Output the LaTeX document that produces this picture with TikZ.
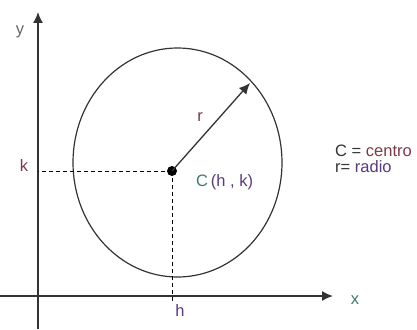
\documentclass[tikz,border=0pt]{standalone}
\usepackage{fontspec}
\setmainfont{Liberation Sans}
\usetikzlibrary{arrows.meta,positioning}
\definecolor{axisgray}{HTML}{333333}
\definecolor{labred}{HTML}{7A3A4A}
\definecolor{labpurple}{HTML}{5A3A7A}
\definecolor{labgreen}{HTML}{3F7A6A}
\definecolor{labgray}{HTML}{666666}

\begin{document}
\begin{tikzpicture}[
    x=1pt,
    y=-1pt,
    axis/.style={
        -{Latex[length=11pt,width=10pt]},
        line width=1.5pt,
        draw=axisgray
      },
    guide/.style={dashed,line width=1pt,dash pattern=on 4pt off 3pt},
    lbl/.style={font=\fontsize{16.5}{16}\selectfont,inner sep=0pt}
    ]
    \useasboundingbox (0,0) rectangle (417,329);

    \coordinate (ybot) at (38,329);
    \coordinate (ytop) at (38,12);
    \coordinate (xleft) at (0,296);
    \coordinate (xright) at (333,296);
    \coordinate (rtip) at (250,83);
    \coordinate (hpt) at (172,302);

    \draw[line width=1.2pt,draw=axisgray] (177.5,162.5) ellipse [x radius=104.5pt, y radius=114.5pt];

    \node[circle,fill=black,inner sep=0pt,minimum size=10pt] (C) at (172,171) {};

    \draw[axis] (xleft)--(xright);
    \draw[axis] (ybot)--(ytop);
    \draw[guide] (C.center)--(C.center -| ytop);
    \draw[guide] (C.center)--(hpt);
    \draw[axis,line width=1.3pt] (C.center)--(rtip);

    \node[lbl,text=labgray] (ylab) at (20,32) {y};
    \node[lbl,text=labred] (klab) at (24,166) {k};
    \node[lbl,text=labpurple] (hlab) at (180,311) {h};
    \node[lbl,text=labgreen] (xlab) at (355,300) {x};
    \node[lbl,text=labred] (rlab) at (200,117) {r};
    \node[lbl,anchor=west] (center) at (196,182) {\textcolor{labgreen}{C}\,\textcolor{labpurple}{(h , k)}};
    \node[lbl,anchor=west,align=left] (legend) at (335,159) {\textcolor{axisgray}{C =} \textcolor{labred}{centro}\\\textcolor{axisgray}{r=} \textcolor{labpurple}{radio}};

  \end{tikzpicture}
\end{document}
